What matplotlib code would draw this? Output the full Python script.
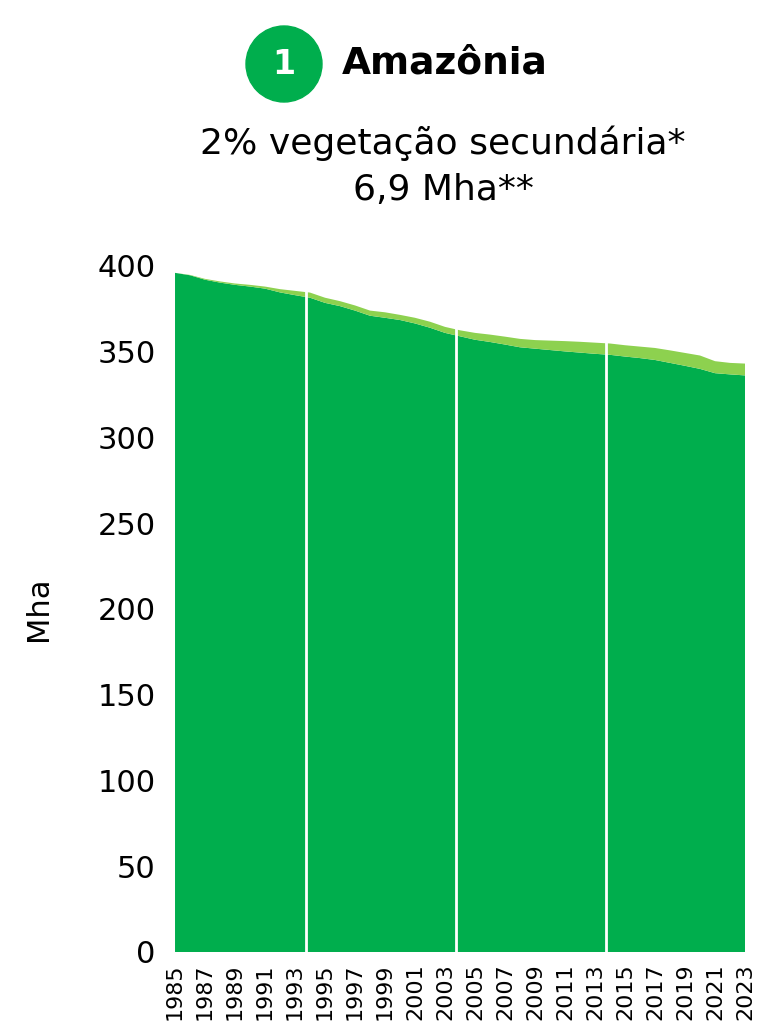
import numpy as np
import matplotlib.pyplot as plt
from matplotlib.patches import Ellipse

plt.rcParams['font.family'] = ['DejaVu Sans']

years = list(range(1985, 2024))
# vegetacao primaria (Mha)
primaria = [396.0, 394.6, 392.0, 390.3, 389.0, 388.0, 386.8, 384.6, 383.0, 381.5,
            378.5, 376.6, 374.0, 371.0, 369.8, 368.5, 366.5, 364.0, 361.0, 359.0,
            357.0, 355.7, 354.2, 352.6, 351.8, 351.0, 350.2, 349.5, 348.8, 348.2,
            347.2, 346.3, 345.2, 343.5, 341.8, 340.0, 337.5, 336.8, 336.2]
# vegetacao secundaria (Mha)
secundaria = [0.0, 0.2, 0.5, 0.7, 0.8, 1.0, 1.2, 1.9, 2.5, 3.0,
              3.0, 2.9, 3.0, 3.0, 3.2, 3.0, 3.3, 3.5, 3.5, 3.5,
              4.0, 4.3, 4.6, 4.9, 5.0, 5.5, 6.0, 6.3, 6.5, 6.6,
              6.6, 6.7, 7.0, 7.3, 7.5, 7.8, 7.0, 6.7, 6.9]
separadores = [1993.75, 2003.75, 2013.75]

verde = '#00AE4D'
verde_claro = '#8DD14F'

fig = plt.figure(figsize=(7.69, 10.35), dpi=100)
ax = fig.add_axes([0.2276, 0.0802, 0.7412, 0.6628])

ax.stackplot(years, primaria, secundaria, colors=[verde, verde_claro], linewidth=0)
for s in separadores:
    ax.axvline(s, color='white', lw=2)

ax.set_xlim(1985, 2023)
ax.set_ylim(0, 400)
ax.set_xticks(years[::2])
ax.set_xticklabels([str(y) for y in years[::2]], rotation=90, fontsize=16)
ax.set_yticks(range(0, 401, 50))
ax.tick_params(axis='y', labelsize=22, length=0, pad=14)
ax.tick_params(axis='x', length=0, pad=8)
ax.set_ylabel('Mha', fontsize=22, labelpad=32)
for sp in ax.spines.values():
    sp.set_visible(False)

# cabecalho
circ = Ellipse((284 / 769, 1 - 64 / 1035), 76 / 769, 76 / 1035,
               transform=fig.transFigure, color=verde, zorder=1)
fig.patches.append(circ)
fig.text(284 / 769, 1 - 64 / 1035, '1', color='white', fontsize=24, weight='bold',
         ha='center', va='center', zorder=10)
fig.text(342 / 769, 1 - 64 / 1035, 'Amazônia', fontsize=27, weight='bold',
         ha='left', va='center')
fig.text(443 / 769, 1 - 143 / 1035, '2% vegetação secundária*', fontsize=26,
         ha='center', va='center')
fig.text(443 / 769, 1 - 190 / 1035, '6,9 Mha**', fontsize=26,
         ha='center', va='center')

fig.savefig('out.png', dpi=100)
